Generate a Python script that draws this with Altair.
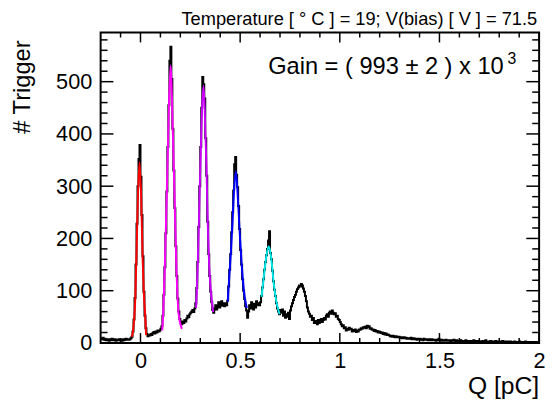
import altair as alt
import pandas as pd

# ---------------- data ----------------
BIN_W = 0.005
Q_MIN = -0.2

counts_left = [9, 7, 10, 6, 8, 5, 7, 6, 4, 7, 5, 8, 6, 5, 7, 4, 6, 5, 7, 5, 6, 4, 7, 5, 6, 8, 6, 7]
counts_ped = [6, 7, 9, 12, 22, 45, 86, 150, 228, 300, 352, 379, 318, 245, 166, 98, 52, 28, 17, 13]
counts_v1 = [15, 14, 17, 15, 19, 21, 18, 22, 20, 24, 22]
counts_p1 = [24, 27, 32, 52, 92, 145, 210, 290, 375, 455, 540, 567, 505, 410, 330, 258, 185, 128, 85, 60, 46, 40, 36, 41]
counts_v2 = [38, 44, 41, 47, 52, 49, 55, 58]
counts_p2 = [60, 63, 59, 66, 76, 105, 155, 222, 300, 375, 450, 509, 495, 468, 392, 320, 232, 170, 128, 98, 78, 63]
counts_v3 = [58, 66, 72, 64, 70, 78, 68, 74, 80, 71, 76, 70]
counts_p3 = [76, 72, 81, 108, 140, 170, 212, 250, 292, 342, 356, 322, 298, 262, 218, 178, 150, 122, 100, 84, 70, 62]
counts_v4 = [48, 60, 72, 66, 78, 70, 64, 75, 68, 80, 72, 76]
counts_p4 = [72, 78, 90, 106, 122, 140, 155, 168, 180, 196, 214, 172, 160, 138, 118, 102, 90, 76, 66, 60, 55, 63]
counts_p5 = [58, 64, 52, 60, 48, 55, 50, 58, 46, 62, 70, 76, 82, 88, 92, 98, 103, 106, 110, 108,
             113, 110, 104, 98, 90, 80, 68, 60, 56, 50, 52, 44, 48, 38, 42]
counts_p6 = [40, 36, 44, 38, 42, 46, 40, 44, 48, 45, 52, 55, 50, 58, 60, 56, 62, 58, 55, 57,
             50, 52, 46, 44, 40]
counts_t1 = [36, 32, 34, 28, 30, 24, 27, 25, 29, 26, 27, 22, 25, 23, 26, 21, 24, 22, 26, 25,
             28, 27, 30, 29, 31, 28, 33, 30, 32, 27, 28, 25, 26, 23, 25, 22, 23, 20, 22, 21,
             19, 20, 17, 19, 16, 18, 15, 16]
counts_t2 = [15, 13, 14, 12, 14, 13, 11, 13, 12, 11,
             12, 10, 11, 9, 10, 11, 9, 10, 8, 9,
             9, 8, 10, 7, 8, 9, 7, 8, 6, 8,
             7, 8, 6, 7, 5, 8, 6, 7, 6, 5,
             7, 6, 5, 7, 6, 5, 6, 4, 6, 5,
             8, 5, 4, 6, 5, 4, 5, 6, 4, 5,
             4, 5, 3, 5, 4, 6, 4, 3, 5, 4,
             3, 4, 5, 3, 4, 3, 4, 5, 3, 4,
             3, 4, 2, 4, 3, 5, 3, 2, 4, 3,
             4, 3, 2, 3, 4, 2, 3, 5, 3, 2,
             3, 2, 4, 3, 2, 3, 2, 4, 2, 3,
             2, 3, 2, 2, 4, 2, 3, 1, 2, 3,
             2, 1, 3, 2, 2, 1, 3, 2, 1, 2,
             2, 3, 1, 2, 2, 1, 2, 3, 1, 2,
             1, 2, 2, 1, 2, 1, 1, 2, 1, 2, 1]

# fitted peak curves
fit0_q = [-0.0426, -0.031, -0.0262, -0.0178, -0.0129, -0.005, 0.0035, 0.0099, 0.0183, 0.0233, 0.0282]
fit0_n = [12, 50, 85, 206, 279, 346, 279, 176, 85, 55, 15]
fit1_q = [0.1089, 0.1139, 0.1223, 0.1307, 0.1386, 0.1505, 0.1634, 0.1718, 0.1802, 0.1916, 0.2079]
fit1_n = [24, 55, 146, 267, 389, 531, 389, 267, 146, 55, 27]
fit2_q = [0.2792, 0.2871, 0.2955, 0.3040, 0.3104, 0.3170, 0.3267, 0.3317, 0.3351, 0.3392, 0.3450, 0.3535, 0.3649]
fit2_n = [67, 146, 267, 389, 461, 492, 389, 328, 267, 206, 146, 97, 59]
fit3_q = [0.4376, 0.4455, 0.4540, 0.4624, 0.4703, 0.4787, 0.4901, 0.4985, 0.5084, 0.5198, 0.5332]
fit3_n = [79, 127, 176, 237, 297, 328, 267, 206, 146, 97, 67]
fit4_q = [0.6074, 0.6188, 0.6307, 0.6436, 0.6554, 0.6683, 0.6817, 0.6980]
fit4_n = [88, 127, 164, 185, 164, 115, 79, 55]
fit_names = ["p0", "p1", "p2", "p3", "p4"]
fit_colors = ["#ff0000", "#ff00ff", "#cc00ff", "#0000ff", "#00e8e8"]

x_labels = [0, 0.5, 1, 1.5, 2]
x_minor = [-0.1, 0.1, 0.2, 0.3, 0.4, 0.6, 0.7, 0.8, 0.9, 1.1, 1.2, 1.3, 1.4,
           1.6, 1.7, 1.8, 1.9]
y_labels = [0, 100, 200, 300, 400, 500]
y_minor = [20, 40, 60, 80, 120, 140, 160, 180, 220, 240, 260, 280, 320, 340, 360, 380,
           420, 440, 460, 480, 520, 540, 560, 580]

title_text = "Temperature [ ° C ] = 19; V(bias) [ V ] = 71.5"
gain_text = "Gain = ( 993 ± 2 ) x 10"
gain_exp = "3"
x_title = "Q [pC]"
y_title = "# Trigger"

# ---------------- build tables ----------------
counts = (counts_left + counts_ped + counts_v1 + counts_p1 + counts_v2 + counts_p2 +
          counts_v3 + counts_p3 + counts_v4 + counts_p4 + counts_p5 + counts_p6 +
          counts_t1 + counts_t2)
hist_df = pd.DataFrame({
    "q": [Q_MIN + BIN_W * (i + 0.5) for i in range(len(counts))],
    "n": counts,
})

fit_rows = []
for name, qs, ns in zip(fit_names,
                        [fit0_q, fit1_q, fit2_q, fit3_q, fit4_q],
                        [fit0_n, fit1_n, fit2_n, fit3_n, fit4_n]):
    for q, n in zip(qs, ns):
        fit_rows.append({"peak": name, "q": q, "n": n})
fit_df = pd.DataFrame(fit_rows)

W, H = 445, 315
FONT = "Liberation Sans"
xscale = alt.Scale(domain=[-0.2, 2.0], nice=False, zero=False)
yscale = alt.Scale(domain=[0, 594], nice=False, zero=False)

x_axis = alt.Axis(values=x_labels, format="~g", title=None, ticks=False, tickSize=0,
                  domain=False, grid=False, labelFontSize=22, labelFont=FONT,
                  labelColor="black", labelPadding=8, labelFlush=False, labelOverlap=False)
y_axis = alt.Axis(values=y_labels, format="d", title=None, ticks=False, tickSize=0,
                  domain=False, grid=False, labelFontSize=22, labelFont=FONT,
                  labelColor="black", labelPadding=9, labelFlush=False, labelOverlap=False)

hist = alt.Chart(hist_df).mark_line(interpolate="step", color="black", strokeWidth=2).encode(
    x=alt.X("q:Q", scale=xscale, axis=x_axis),
    y=alt.Y("n:Q", scale=yscale, axis=y_axis),
)

fits = alt.Chart(fit_df).mark_line(interpolate="monotone", strokeWidth=2).encode(
    x=alt.X("q:Q", scale=xscale, axis=x_axis),
    y=alt.Y("n:Q", scale=yscale, axis=y_axis),
    color=alt.Color("peak:N", scale=alt.Scale(domain=fit_names, range=fit_colors), legend=None),
    detail="peak:N",
)


def xticks(vals, length, top):
    df = pd.DataFrame({"q": vals})
    y0 = 0 if top else H
    y1 = length if top else H - length
    return alt.Chart(df).mark_rule(color="black", strokeWidth=1.5).encode(
        x=alt.X("q:Q", scale=xscale, axis=x_axis), y=alt.value(y0), y2=alt.value(y1))


def yticks(vals, length, right):
    df = pd.DataFrame({"n": vals})
    x0 = W if right else 0
    x1 = W - length if right else length
    return alt.Chart(df).mark_rule(color="black", strokeWidth=1.5).encode(
        y=alt.Y("n:Q", scale=yscale, axis=y_axis), x=alt.value(x0), x2=alt.value(x1))


tick_layers = [
    xticks(x_labels, 10, False), xticks(x_minor, 5, False),
    xticks(x_labels, 10, True), xticks(x_minor, 5, True),
    yticks(y_labels, 13, False), yticks(y_minor, 7, False),
    yticks(y_labels, 13, True), yticks(y_minor, 7, True),
]


def text_layer(txt, x, y, size, align="left", angle=0):
    df = pd.DataFrame({"t": [txt]})
    props = dict(align=align, baseline="alphabetic", fontSize=size, font=FONT, color="black")
    if angle:
        props["angle"] = angle
    return alt.Chart(df).mark_text(**props).encode(
        x=alt.value(x), y=alt.value(y), text="t:N")


texts = [
    text_layer(title_text, 443, -8, 18.5, align="right"),
    text_layer(gain_text, 170, 42, 24, align="left"),
    text_layer(gain_exp, 413, 32, 16, align="left"),
    text_layer(x_title, 445, 367, 25, align="right"),
    text_layer(y_title, -72, 8, 24, align="right", angle=270),
]

chart = alt.layer(hist, fits, *tick_layers, *texts).properties(
    width=W, height=H,
    padding={"left": 94, "top": 22, "right": 8, "bottom": 57},
    autosize=alt.AutoSizeParams(type="none"),
    background="white",
).configure_view(stroke="black", strokeWidth=2)

chart.save("out.html", embed_options={"renderer": "svg", "actions": False})
